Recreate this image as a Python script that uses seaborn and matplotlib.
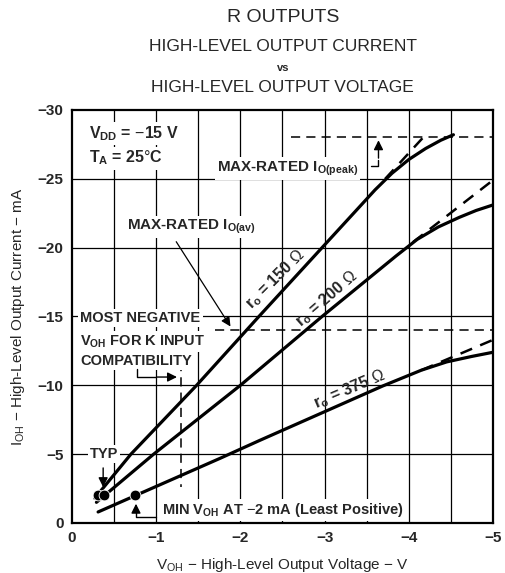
import numpy as np
import matplotlib
matplotlib.use("Agg")
import matplotlib.pyplot as plt
import pandas as pd
import seaborn as sns

# curve data (V in volts, I in mA)
v_150 = [-0.27, -0.7, -1.48, -2.22, -2.97, -3.6, -3.8, -4.0, -4.2, -4.38, -4.53]
i_150 = [-1.8, -5.0, -10.0, -15.0, -20.0, -24.2, -25.4, -26.4, -27.2, -27.8, -28.2]
v_150_ext = [-3.72, -4.23]
i_150_ext = [-25.0, -28.4]

v_200 = [-0.29, -0.97, -2.0, -2.97, -3.85, -4.1, -4.35, -4.6, -4.8, -5.0]
i_200 = [-1.5, -5.0, -10.0, -15.0, -19.4, -20.6, -21.5, -22.2, -22.7, -23.1]
v_200_ext = [-4.05, -5.0]
i_200_ext = [-20.4, -24.9]

v_375 = [-0.31, -1.76, -2.23, -3.69, -4.15, -4.45, -4.75, -5.0]
i_375 = [-0.8, -4.7, -6.0, -9.95, -11.1, -11.7, -12.1, -12.4]
v_375_ext = [-4.15, -5.0]
i_375_ext = [-11.1, -13.3]

# points at -2 mA
dot_v = [-0.31, -0.38, -0.75]
dot_i = [-2.0, -2.0, -2.0]

peak_limit = -28   # max-rated IO(peak)
av_limit = -14     # max-rated IO(av)
k_limit_v = -1.3   # most negative VOH for K input

x_ticks = [0, -1, -2, -3, -4, -5]
y_ticks = [0, -5, -10, -15, -20, -25, -30]

sns.set_style("white")
plt.rcParams["font.family"] = ["Liberation Sans", "DejaVu Sans"]
plt.rcParams["mathtext.fontset"] = "custom"
plt.rcParams["mathtext.rm"] = "Liberation Sans"
plt.rcParams["mathtext.bf"] = "Liberation Sans:bold"

fig = plt.figure(figsize=(5.06, 5.73), dpi=100)
ax = fig.add_axes([0.1423, 0.0873, 0.832, 0.7208])

ax.set_xlim(0, -5)
ax.set_ylim(0, -30)

# grid
for gx in np.arange(-0.5, -5.0, -0.5):
    ax.axvline(gx, color="black", lw=0.9, zorder=1)
for gy in np.arange(-5, -30, -5):
    ax.axhline(gy, color="black", lw=0.9, zorder=1)

for sp in ax.spines.values():
    sp.set_linewidth(1.6)
    sp.set_color("black")

# curves
for v, i in [(v_150, i_150), (v_200, i_200), (v_375, i_375)]:
    df = pd.DataFrame({"v": v, "i": i})
    sns.lineplot(data=df, x="v", y="i", sort=False, color="black", lw=2.3, ax=ax, zorder=4)
for v, i in [(v_150_ext, i_150_ext), (v_200_ext, i_200_ext), (v_375_ext, i_375_ext)]:
    df = pd.DataFrame({"v": v, "i": i})
    sns.lineplot(data=df, x="v", y="i", sort=False, color="black", lw=1.8,
                 linestyle=(0, (5, 3.5)), ax=ax, zorder=4)

sns.scatterplot(x=dot_v, y=dot_i, color="black", s=60, ax=ax, zorder=5)

# limit lines
ax.plot([-2.6, -5], [peak_limit, peak_limit], color="black", lw=1.1, ls=(0, (6, 4)), zorder=2)
ax.plot([-1.7, -5], [av_limit, av_limit], color="black", lw=1.1, ls=(0, (6, 4)), zorder=2)
ax.plot([k_limit_v, k_limit_v], [-11.7, -2.6], color="black", lw=1.1, ls=(0, (6, 4)), zorder=2)

ax.set_xticks(x_ticks)
ax.set_xticklabels(["0" if t == 0 else "\u2212%d" % -t for t in x_ticks], fontsize=11, fontweight="bold")
ax.set_yticks(y_ticks)
ax.set_yticklabels(["0" if t == 0 else "\u2212%d" % -t for t in y_ticks], fontsize=11, fontweight="bold")
ax.tick_params(length=0, pad=6)

ax.set_xlabel(r"V$_{\mathrm{OH}}$ $-$ High-Level Output Voltage $-$ V", fontsize=11, labelpad=8)
ax.set_ylabel(r"I$_{\mathrm{OH}}$ $-$ High-Level Output Current $-$ mA", fontsize=11, labelpad=8)

# titles
fig.text(0.559, 0.970, "R OUTPUTS", ha="center", va="center", fontsize=14)
fig.text(0.559, 0.918, "HIGH-LEVEL OUTPUT CURRENT", ha="center", va="center", fontsize=12.5)
fig.text(0.559, 0.881, "vs", ha="center", va="center", fontsize=8, fontweight="bold")
fig.text(0.559, 0.848, "HIGH-LEVEL OUTPUT VOLTAGE", ha="center", va="center", fontsize=12.5)

bb = dict(facecolor="white", edgecolor="none", pad=1.5)
tk = dict(fontsize=10.5, fontweight="bold", zorder=6)

ax.text(-0.2, -28.3, r"V$_{\mathbf{DD}}$ = $-$15 V", va="center", ha="left", bbox=bb,
        fontsize=11.5, fontweight="bold", zorder=6)
ax.text(-0.2, -26.5, r"T$_{\mathbf{A}}$ = 25$\degree$C", va="center", ha="left", bbox=bb,
        fontsize=11.5, fontweight="bold", zorder=6)

ax.text(-1.72, -25.75, r"MAX-RATED I$_{\mathbf{O(peak)}}$", va="center", ha="left", bbox=bb,
        fontsize=11, fontweight="bold", zorder=6)
ax.plot([-3.55, -3.64, -3.64], [-25.9, -25.9, -26.4], color="black", lw=1.0, zorder=6)
ax.annotate("", xy=(-3.64, -28.0), xytext=(-3.64, -26.3),
            arrowprops=dict(arrowstyle="-|>", color="black", lw=1.0, mutation_scale=14), zorder=6)

ax.text(-0.65, -21.5, r"MAX-RATED I$_{\mathbf{O(av)}}$", va="center", ha="left", bbox=bb,
        fontsize=11, fontweight="bold", zorder=6)
ax.annotate("", xy=(-1.9, -14.1), xytext=(-1.22, -20.6),
            arrowprops=dict(arrowstyle="-|>", color="black", lw=0.9, mutation_scale=14), zorder=6)

ax.text(-0.1, -14.9, "MOST NEGATIVE", va="center", ha="left", bbox=bb, **tk)
ax.text(-0.1, -13.2, r"V$_{\mathbf{OH}}$ FOR K INPUT", va="center", ha="left", bbox=bb, **tk)
ax.text(-0.1, -11.75, "COMPATIBILITY", va="center", ha="left", bbox=bb, **tk)
ax.plot([-0.77, -0.77, -1.0], [-11.2, -10.6, -10.6], color="black", lw=1.0, zorder=6)
ax.annotate("", xy=(-1.28, -10.6), xytext=(-0.98, -10.6),
            arrowprops=dict(arrowstyle="-|>", color="black", lw=1.0, mutation_scale=14), zorder=6)

ax.text(-0.38, -5.0, "TYP", va="center", ha="center", bbox=bb, **tk)
ax.annotate("", xy=(-0.37, -2.4), xytext=(-0.37, -4.2),
            arrowprops=dict(arrowstyle="-|>", color="black", lw=1.0, mutation_scale=14), zorder=6)

ax.text(-1.07, -0.95, r"MIN V$_{\mathbf{OH}}$ AT $-$2 mA (Least Positive)", va="center", ha="left",
        bbox=bb, **tk)
ax.plot([-1.0, -0.76, -0.76], [-0.4, -0.4, -0.9], color="black", lw=1.0, zorder=6)
ax.annotate("", xy=(-0.76, -1.6), xytext=(-0.76, -0.8),
            arrowprops=dict(arrowstyle="-|>", color="black", lw=1.0, mutation_scale=14), zorder=6)

# curve labels
lk = dict(fontsize=11.5, fontweight="bold", ha="center", va="center", zorder=6)
ax.text(-2.41, -17.7, r"r$_{\mathbf{o}}$ = 150 $\Omega$", rotation=45, **lk)
ax.text(-3.03, -16.3, r"r$_{\mathbf{o}}$ = 200 $\Omega$", rotation=41, **lk)
ax.text(-3.3, -9.7, r"r$_{\mathbf{o}}$ = 375 $\Omega$", rotation=23, **lk)

fig.savefig("out.png", dpi=100)
